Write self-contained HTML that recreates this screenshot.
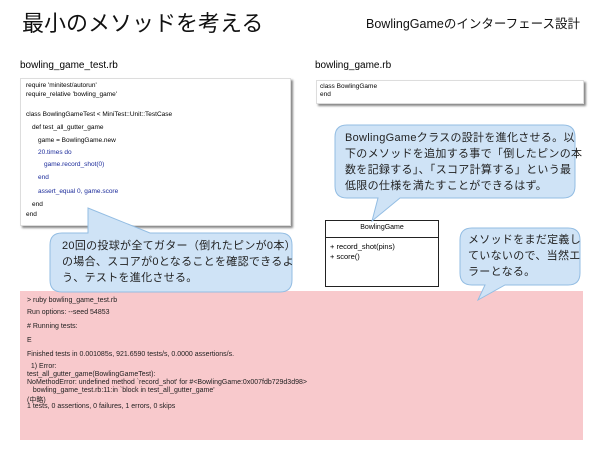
<!DOCTYPE html>
<html><head><meta charset="utf-8"><style>
body{margin:0;width:600px;height:449px;background:#fff;position:relative;overflow:hidden;font-family:"Liberation Sans","Noto Sans CJK JP",sans-serif;}
.a{position:absolute;white-space:nowrap;}
.code{font-size:6.5px;color:#000;}
.b{color:#1a2a9a;}
.pk{font-size:7px;color:#222;}
.cl{font-size:11px;line-height:16px;color:#222;letter-spacing:0.3px;}
</style></head><body>
<div class="a" style="left:22px;top:6px;font-size:22px;color:#111;">最小のメソッドを考える</div>
<div class="a" style="left:366px;top:13px;font-size:12.5px;color:#111;">BowlingGameのインターフェース設計</div>
<div class="a" style="left:20px;top:60px;font-size:10px;">bowling_game_test.rb</div>
<div class="a" style="left:315px;top:60px;font-size:10px;">bowling_game.rb</div>

<div class="a" style="left:20px;top:78px;width:269px;height:146px;background:#fff;border:1px solid #ddd;box-shadow:2px 2px 2px #888;"></div>
<div class="a" style="left:316px;top:80px;width:266px;height:22px;background:#fff;border:1px solid #ddd;box-shadow:2px 2px 2px #888;"></div>
<div class="a code" style="left:320px;top:83px;line-height:8px;">class BowlingGame<br>end</div>

<div class="a code" style="left:26px;top:82px;">require 'minitest/autorun'</div>
<div class="a code" style="left:26px;top:91px;">require_relative 'bowling_game'</div>
<div class="a code" style="left:26px;top:111px;">class BowlingGameTest &lt; MiniTest::Unit::TestCase</div>
<div class="a code" style="left:32px;top:124px;">def test_all_gutter_game</div>
<div class="a code" style="left:38px;top:137px;">game = BowlingGame.new</div>
<div class="a code b" style="left:38px;top:149px;">20.times do</div>
<div class="a code b" style="left:44px;top:161px;">game.record_shot(0)</div>
<div class="a code b" style="left:38px;top:174px;">end</div>
<div class="a code b" style="left:38px;top:188px;">assert_equal 0, game.score</div>
<div class="a code" style="left:32px;top:201px;">end</div>
<div class="a code" style="left:26px;top:211px;">end</div>

<div class="a" style="left:20px;top:291px;width:563px;height:149px;background:#f8c9cc;"></div>
<div class="a pk" style="left:27px;top:297px;">&gt; ruby bowling_game_test.rb</div>
<div class="a pk" style="left:27px;top:309px;">Run options: --seed 54853</div>
<div class="a pk" style="left:27px;top:323px;"># Running tests:</div>
<div class="a pk" style="left:27px;top:337px;">E</div>
<div class="a pk" style="left:27px;top:351px;">Finished tests in 0.001085s, 921.6590 tests/s, 0.0000 assertions/s.</div>
<div class="a pk" style="left:27px;top:363px;">&nbsp;&nbsp;1) Error:</div>
<div class="a pk" style="left:27px;top:371px;">test_all_gutter_game(BowlingGameTest):</div>
<div class="a pk" style="left:27px;top:379px;">NoMethodError: undefined method `record_shot' for #&lt;BowlingGame:0x007fdb729d3d98&gt;</div>
<div class="a pk" style="left:27px;top:387px;">&nbsp;&nbsp;&nbsp;bowling_game_test.rb:11:in `block in test_all_gutter_game'</div>
<div class="a pk" style="left:27px;top:395px;">(中略)</div>
<div class="a pk" style="left:27px;top:403px;">1 tests, 0 assertions, 0 failures, 1 errors, 0 skips</div>

<div class="a" style="left:325px;top:220px;width:114px;height:67px;border:1px solid #222;background:#fff;box-sizing:border-box;"></div>
<div class="a" style="left:325px;top:237px;width:114px;border-top:1px solid #222;"></div>
<div class="a code" style="left:325px;top:224px;width:114px;text-align:center;font-size:7px;">BowlingGame</div>
<div class="a code" style="left:330px;top:242px;font-size:7.5px;line-height:10px;">+ record_shot(pins)<br>+ score()</div>

<svg class="a" style="left:0;top:0" width="600" height="449">
<g fill="#cfe3f6" stroke="#93bde3" stroke-width="1">
<path d="M62,233 H88 L88,208 L150,233 H280 Q292,233 292,245 V280 Q292,292 280,292 H62 Q50,292 50,280 V245 Q50,233 62,233 Z"/>
<path d="M347,125 H563 Q575,125 575,137 V186 Q575,198 563,198 H400 L372,221 L378,198 H347 Q335,198 335,186 V137 Q335,125 347,125 Z"/>
<path d="M472,228 H568 Q580,228 580,240 V273 Q580,285 568,285 H505 L478,300 L485,285 H472 Q460,285 460,273 V240 Q460,228 472,228 Z"/>
</g>
</svg>
<div class="a cl" style="left:62px;top:238px;">20回の投球が全てガター（倒れたピンが0本）<br>の場合、スコアが0となることを確認できるよ<br>う、テストを進化させる。</div>
<div class="a cl" style="left:345px;top:130px;">BowlingGameクラスの設計を進化させる。以<br>下のメソッドを追加する事で「倒したピンの本<br>数を記録する」、「スコア計算する」という最<br>低限の仕様を満たすことができるはず。</div>
<div class="a cl" style="left:468px;top:232px;">メソッドをまだ定義し<br>ていないので、当然エ<br>ラーとなる。</div>
</body></html>
